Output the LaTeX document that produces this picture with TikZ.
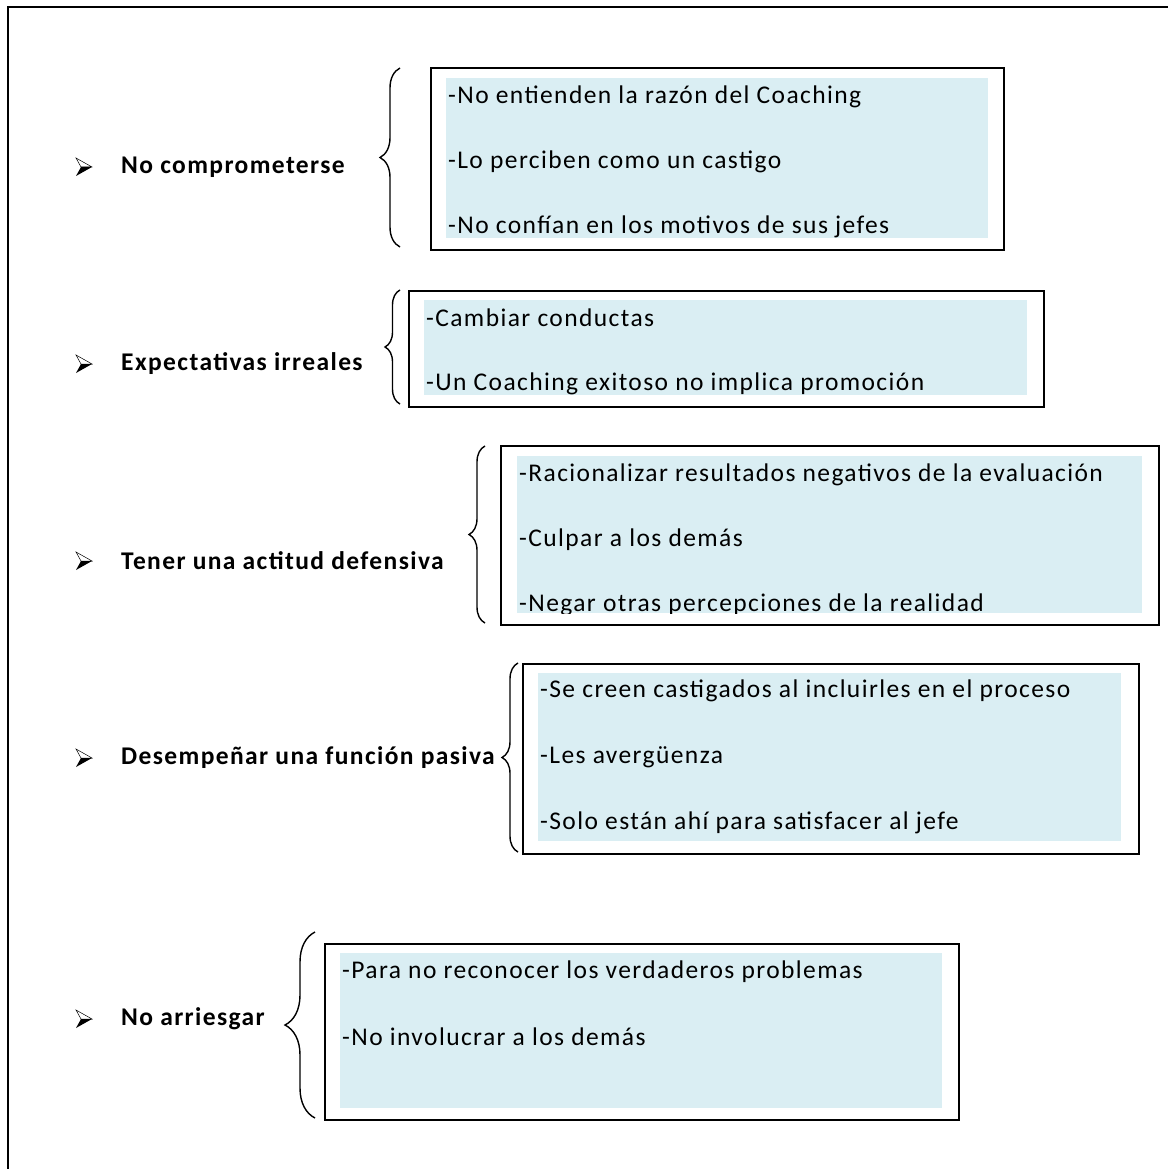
\documentclass[tikz,border=0pt]{standalone}
\usepackage{fontspec}
\setmainfont{Carlito}[LetterSpace=5.5]
\usepackage{tikz}
\usetikzlibrary{positioning, decorations.pathreplacing}
\definecolor{notecolor}{HTML}{DAEEF3}

\begin{document}
\begin{tikzpicture}[x=1pt, y=-1pt,
    frame/.style={draw, line width=1.6pt, inner sep=0pt, anchor=north west},
    notes/.style={fill=notecolor, inner sep=0pt, anchor=north west},
    item/.style={anchor=west, inner sep=0pt, font=\fontsize{25.5}{30}\selectfont},
    cause/.style={anchor=west, inner sep=0pt, font=\fontsize{25.5}{30}\selectfont\bfseries},
    brc/.style={decorate, decoration={brace, amplitude=#1}, line width=1.4pt},
    bullet/.pic={
        \filldraw[line width=0.5pt, fill=white] (-16,-9) -- (0,0) -- (-11,0) -- cycle;
        \fill (-16,9) -- (0,0) -- (-11,0) -- cycle;
    }
]
    \useasboundingbox (0,0) rectangle (1167,1169);
    % outer frame, runs off the page at right and bottom
    \draw[line width=1.4pt] (1190,7) -- (8,7) -- (8,1190);

    % No comprometerse
    \pic at (92,167) {bullet};
    \node[cause] (c1) at (121,167) {No comprometerse};
    \draw[brc=20] (400,247) -- (400,68);
    \node[frame, minimum width=573, minimum height=182] (box1) at (430,67) {};
    \node[notes, minimum width=542, minimum height=160] (n1) at (446,78) {};
    \begin{scope}
        \clip (n1.north west) rectangle (n1.south east);
        \node[item] (t11) at (448,97) {-No entienden la razón del Coaching};
        \node[item] (t12) at (448,162) {-Lo perciben como un castigo};
        \node[item] (t13) at (448,227) {-No confían en los motivos de sus jefes};
    \end{scope}

    % Expectativas irreales
    \pic at (92,364) {bullet};
    \node[cause] (c2) at (121,364) {Expectativas irreales};
    \draw[brc=15] (400,404) -- (400,290);
    \node[frame, minimum width=635, minimum height=116] (box2) at (408,290) {};
    \node[notes, minimum width=603, minimum height=95] (n2) at (424,300) {};
    \begin{scope}
        \clip (n2.north west) rectangle (n2.south east);
        \node[item] (t21) at (426,318) {-Cambiar conductas};
        \node[item] (t22) at (426,384) {-Un Coaching exitoso no implica promoción};
    \end{scope}

    % Tener una actitud defensiva
    \pic at (92,561) {bullet};
    \node[cause] (c3) at (121,561) {Tener una actitud defensiva};
    \draw[brc=16] (485,623) -- (485,446);
    \node[frame, minimum width=658, minimum height=179] (box3) at (500,445) {};
    \node[notes, minimum width=625, minimum height=157] (n3) at (517,456) {};
    \begin{scope}
        \clip (n3.north west) rectangle (n3.south east);
        \node[item] (t31) at (519,475) {-Racionalizar resultados negativos de la evaluación};
        \node[item] (t32) at (519,540) {-Culpar a los demás};
        \node[item] (t33) at (519,605) {-Negar otras percepciones de la realidad};
    \end{scope}

    % Desempeñar una función pasiva
    \pic at (92,758) {bullet};
    \node[cause] (c4) at (121,758) {Desempeñar una función pasiva};
    \draw[brc=16] (518,852) -- (518,663);
    \node[frame, minimum width=616, minimum height=190] (box4) at (522,663) {};
    \node[notes, minimum width=583, minimum height=168] (n4) at (538,673) {};
    \node[item] (t41) at (540,691) {-Se creen castigados al incluirles en el proceso};
    \node[item] (t42) at (540,757) {-Les avergüenza};
    \node[item] (t43) at (540,823) {-Solo están ahí para satisfacer al jefe};

    % No arriesgar
    \pic at (92,1019) {bullet};
    \node[cause] (c5) at (121,1019) {No arriesgar};
    \draw[brc=30] (315,1118) -- (315,932);
    \node[frame, minimum width=634, minimum height=176] (box5) at (324,943) {};
    \node[notes, minimum width=602, minimum height=155] (n5) at (340,953) {};
    \node[item] (t51) at (342,972) {-Para no reconocer los verdaderos problemas};
    \node[item] (t52) at (342,1037) {-No involucrar a los demás};
\end{tikzpicture}
\end{document}
